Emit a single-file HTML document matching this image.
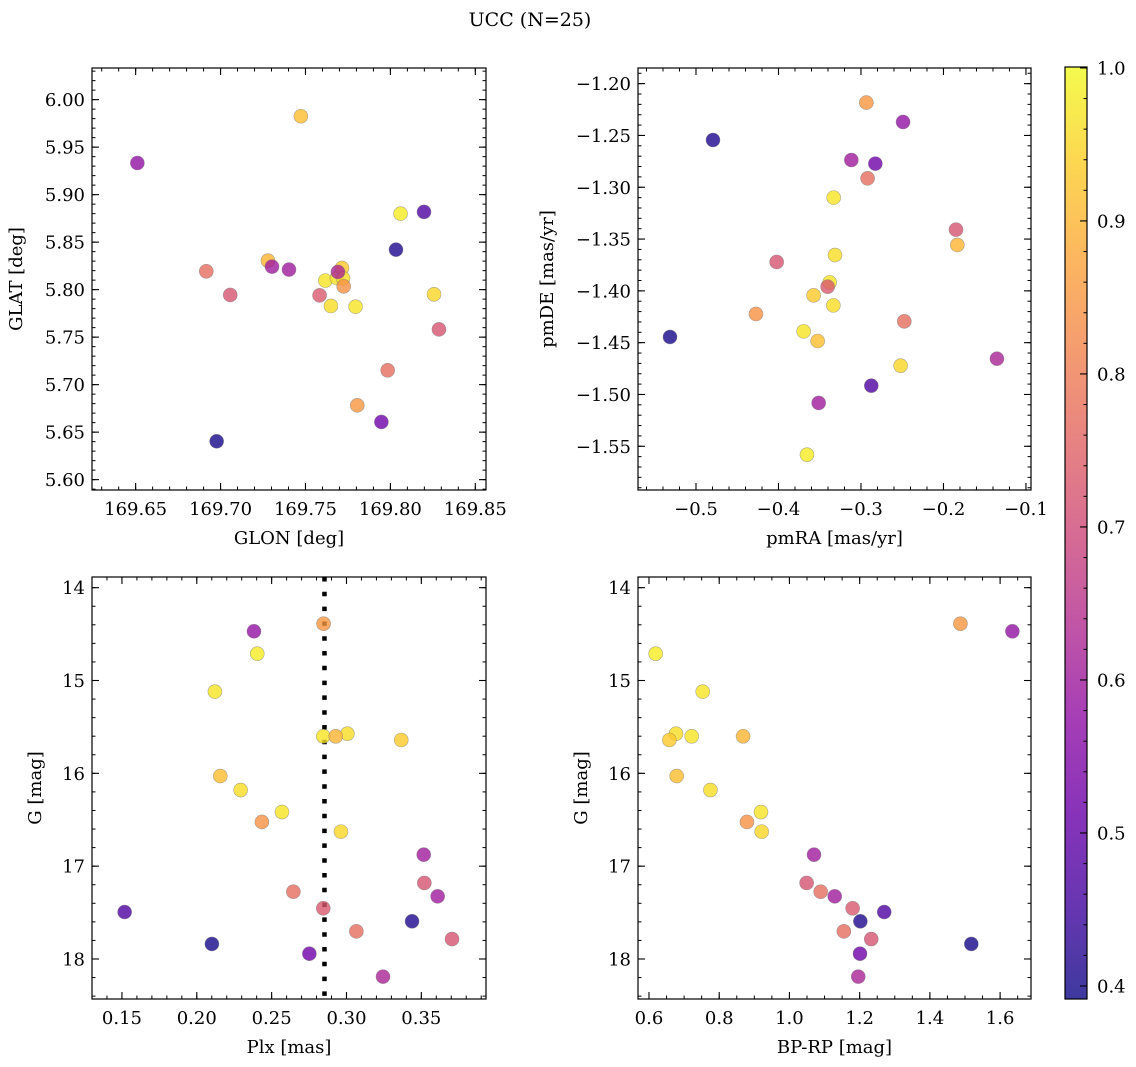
<!DOCTYPE html>
<html><head><meta charset="utf-8"><style>
html,body{margin:0;padding:0;background:#fff;}
svg{display:block;font-family:"DejaVu Serif","Liberation Serif",serif;}
</style></head><body>
<svg id="fig" width="1136" height="1067" viewBox="0 0 1136 1067" xmlns="http://www.w3.org/2000/svg">
<text x="530" y="26" text-anchor="middle" font-size="19">UCC (N=25)</text>
</svg>
<script>
const probs=[0.85,0.58,0.98,0.97,0.96,0.97,0.90,0.93,0.91,0.96,0.97,0.84,0.95,0.60,0.72,0.77,0.60,0.73,0.47,0.41,0.77,0.72,0.40,0.52,0.62];
const glon=[169.7805,169.651,169.806,169.7617,169.765,169.7685,169.7279,169.7715,169.7473,169.7721,169.7795,169.7725,169.8257,169.7303,169.7057,169.6916,169.7403,169.7583,169.8198,169.8033,169.7984,169.8286,169.6977,169.7947,169.7691];
const glat=[5.6782,5.9333,5.88,5.8095,5.7828,5.8123,5.8305,5.8228,5.9825,5.8119,5.7821,5.8035,5.7951,5.8242,5.7944,5.8193,5.8211,5.7940,5.8818,5.8421,5.7151,5.7582,5.6404,5.6607,5.8186];
const pmra=[-0.2935,-0.249,-0.3655,-0.3331,-0.3315,-0.338,-0.1832,-0.3574,-0.3525,-0.3335,-0.3695,-0.4273,-0.2519,-0.3513,-0.4022,-0.292,-0.3117,-0.3404,-0.2875,-0.4794,-0.2475,-0.1848,-0.5315,-0.2826,-0.1352];
const pmde=[-1.2183,-1.237,-1.5581,-1.310,-1.3654,-1.3918,-1.3557,-1.4043,-1.4484,-1.414,-1.4391,-1.4223,-1.4722,-1.5082,-1.3721,-1.2914,-1.2737,-1.396,-1.4915,-1.2544,-1.4294,-1.3409,-1.4445,-1.2772,-1.4655];
const plx=[0.2847,0.2382,0.2404,0.2121,0.3006,0.2845,0.2928,0.3366,0.2157,0.2293,0.2569,0.2435,0.2963,0.3516,0.352,0.2645,0.3609,0.2845,0.1518,0.3438,0.3066,0.3705,0.2101,0.2752,0.3244];
const gmag=[14.388,14.470,14.711,15.120,15.573,15.601,15.601,15.641,16.029,16.180,16.417,16.524,16.628,16.876,17.181,17.275,17.325,17.454,17.494,17.594,17.702,17.785,17.838,17.943,18.190];
const bprp=[1.487,1.635,0.619,0.753,0.677,0.7216,0.868,0.658,0.679,0.775,0.919,0.879,0.921,1.070,1.049,1.089,1.129,1.180,1.270,1.202,1.155,1.233,1.518,1.201,1.196];
const plxLine=0.2853;
const cbTicks=[0.4,0.5,0.6,0.7,0.8,0.9,1.0];

const NS="http://www.w3.org/2000/svg";
const svg=document.getElementById('fig');
const plasma=[[13,8,135],[65,4,157],[106,0,168],[143,13,164],[177,42,144],[204,71,120],[225,100,98],[242,132,75],[252,166,54],[252,206,37],[240,249,33]];
function cmap(t){t=Math.max(0,Math.min(1,t));const p=t*10;const i=Math.min(9,Math.floor(p));const f=p-i;const a=plasma[i],b=plasma[i+1];
return 'rgb('+[0,1,2].map(k=>Math.round(a[k]+(b[k]-a[k])*f)).join(',')+')';}
const VMIN=0.3915,VMAX=1.0;
const FS=18;
function el(tag,attrs,parent){const e=document.createElementNS(NS,tag);for(const k in attrs)e.setAttribute(k,attrs[k]);(parent||svg).appendChild(e);return e;}

function panel(cfg){
  const g=el('g',{});
  
  
  const {x0,y0,w,h}=cfg;
  const sx=v=>x0+(v-cfg.xd[0])/(cfg.xd[1]-cfg.xd[0])*w;
  const sy=v=>y0+(v-cfg.yd[0])/(cfg.yd[1]-cfg.yd[0])*h;
  const lo=Math.min(...cfg.xd),hi=Math.max(...cfg.xd);
  for(let v=Math.ceil(lo/cfg.xm-1e-6)*cfg.xm;v<=hi+1e-9;v+=cfg.xm){const px=sx(v);
    el('line',{x1:px,x2:px,y1:y0+h,y2:y0+h-3.5,stroke:'#000','stroke-width':1},g);
    el('line',{x1:px,x2:px,y1:y0,y2:y0+3.5,stroke:'#000','stroke-width':1},g);}
  const ylo=Math.min(...cfg.yd),yhi=Math.max(...cfg.yd);
  for(let v=Math.ceil(ylo/cfg.ym-1e-6)*cfg.ym;v<=yhi+1e-9;v+=cfg.ym){const py=sy(v);
    el('line',{x1:x0,x2:x0+3.5,y1:py,y2:py,stroke:'#000','stroke-width':1},g);
    el('line',{x1:x0+w,x2:x0+w-3.5,y1:py,y2:py,stroke:'#000','stroke-width':1},g);}
  cfg.xt.forEach(v=>{const px=sx(v);
    el('line',{x1:px,x2:px,y1:y0+h,y2:y0+h-7,stroke:'#000','stroke-width':1.1},g);
    el('line',{x1:px,x2:px,y1:y0,y2:y0+7,stroke:'#000','stroke-width':1.1},g);
    const t=el('text',{x:px,y:y0+h+25,'text-anchor':'middle','font-size':FS},g);
    
    
    t.textContent=cfg.xf(v);});
  cfg.yt.forEach(v=>{const py=sy(v);
    el('line',{x1:x0,x2:x0+7,y1:py,y2:py,stroke:'#000','stroke-width':1.1},g);
    el('line',{x1:x0+w,x2:x0+w-7,y1:py,y2:py,stroke:'#000','stroke-width':1.1},g);
    const t=el('text',{x:x0-7,y:py+6.5,'text-anchor':'end','font-size':FS},g);
    
    
    t.textContent=cfg.yf(v);});
  if(cfg.vline!==undefined){const px=sx(cfg.vline);
    const l=el('line',{x1:px,x2:px,y1:y0,y2:y0+h,stroke:'#000','stroke-width':4.5,'stroke-dasharray':'4.5,10.3'},g);
    
    }
  cfg.xs.forEach((xv,i)=>{
    const c=el('circle',{cx:sx(xv),cy:sy(cfg.ys[i]),r:7,fill:cmap((probs[i]-VMIN)/(VMAX-VMIN)),'fill-opacity':0.8,stroke:'#777','stroke-opacity':0.6,'stroke-width':0.6},g);
    
    
  });
  const fr=el('rect',{x:x0,y:y0,width:w,height:h,fill:'none',stroke:'#000','stroke-width':1.2},g);
  
  
  const xl=el('text',{x:x0+w/2,y:y0+h+54,'text-anchor':'middle','font-size':FS},g);
  
  
  xl.textContent=cfg.xlabel;
  const yl=el('text',{x:0,y:0,'text-anchor':'middle','font-size':FS,transform:'translate('+cfg.ylx+','+(y0+h/2)+') rotate(-90)'},g);
  
  
  yl.textContent=cfg.ylabel;
}
const f2=v=>v.toFixed(2), f1=v=>v.toFixed(1), f0=v=>v.toFixed(0);
const mf2=v=>(v<0?'\u2212':'')+Math.abs(v).toFixed(2), mf1=v=>(v<0?'\u2212':'')+Math.abs(v).toFixed(1);
panel({name:'glon-glat-panel',x0:92,y0:68,w:394,h:422,xd:[169.6243,169.8563],yd:[6.0333,5.5891],xm:0.01,ym:0.01,
  xt:[169.65,169.70,169.75,169.80,169.85],yt:[5.60,5.65,5.70,5.75,5.80,5.85,5.90,5.95,6.00],xf:f2,yf:f2,
  xs:glon,ys:glat,xlabel:'GLON [deg]',ylabel:'GLAT [deg]',ylx:22});
panel({name:'pm-panel',x0:638,y0:68,w:393,h:422,xd:[-0.5703,-0.0939],yd:[-1.1849,-1.5922],xm:0.02,ym:0.01,
  xt:[-0.5,-0.4,-0.3,-0.2,-0.1],yt:[-1.55,-1.50,-1.45,-1.40,-1.35,-1.30,-1.25,-1.20],xf:mf1,yf:mf2,
  xs:pmra,ys:pmde,xlabel:'pmRA [mas/yr]',ylabel:'pmDE [mas/yr]',ylx:553});
panel({name:'plx-g-panel',x0:92,y0:577,w:394,h:422,xd:[0.1300,0.3932],yd:[13.885,18.431],xm:0.01,ym:0.2,
  xt:[0.15,0.20,0.25,0.30,0.35],yt:[14,15,16,17,18],xf:f2,yf:f0,
  xs:plx,ys:gmag,xlabel:'Plx [mas]',ylabel:'G [mag]',ylx:41,vline:plxLine});
panel({name:'cmd-panel',x0:638,y0:577,w:393,h:422,xd:[0.5687,1.688],yd:[13.885,18.431],xm:0.05,ym:0.2,
  xt:[0.6,0.8,1.0,1.2,1.4,1.6],yt:[14,15,16,17,18],xf:f1,yf:f0,
  xs:bprp,ys:gmag,xlabel:'BP-RP [mag]',ylabel:'G [mag]',ylx:587});

const cb=el('g',{});


const defs=el('defs',{},cb);
const lg=el('linearGradient',{id:'cbg',x1:0,y1:1,x2:0,y2:0},defs);
for(let i=0;i<=20;i++){el('stop',{offset:(i/20),'stop-color':cmap(i/20),'stop-opacity':0.8},lg);}
const cbTop=67,cbBot=999,cbX=1065,cbW=22,cbMin=0.3915,cbMax=1.0006;
const cy=v=>cbBot-(v-cbMin)/(cbMax-cbMin)*(cbBot-cbTop);
el('rect',{x:cbX,y:cbTop,width:cbW,height:cbBot-cbTop,fill:'url(#cbg)'},cb);
for(let v=0.40;v<=1.0001;v+=0.02){const py=cy(v);el('line',{x1:cbX+cbW,x2:cbX+cbW-3.5,y1:py,y2:py,stroke:'#000','stroke-width':1},cb);}
cbTicks.forEach(v=>{const py=cy(v);
  el('line',{x1:cbX+cbW,x2:cbX+cbW-7,y1:py,y2:py,stroke:'#000','stroke-width':1.1},cb);
  const t=el('text',{x:cbX+cbW+10,y:py+6.5,'font-size':FS},cb);
  
  
  t.textContent=v.toFixed(1);});
el('rect',{x:cbX,y:cbTop,width:cbW,height:cbBot-cbTop,fill:'none',stroke:'#000','stroke-width':1.2},cb);
</script>
</body></html>
